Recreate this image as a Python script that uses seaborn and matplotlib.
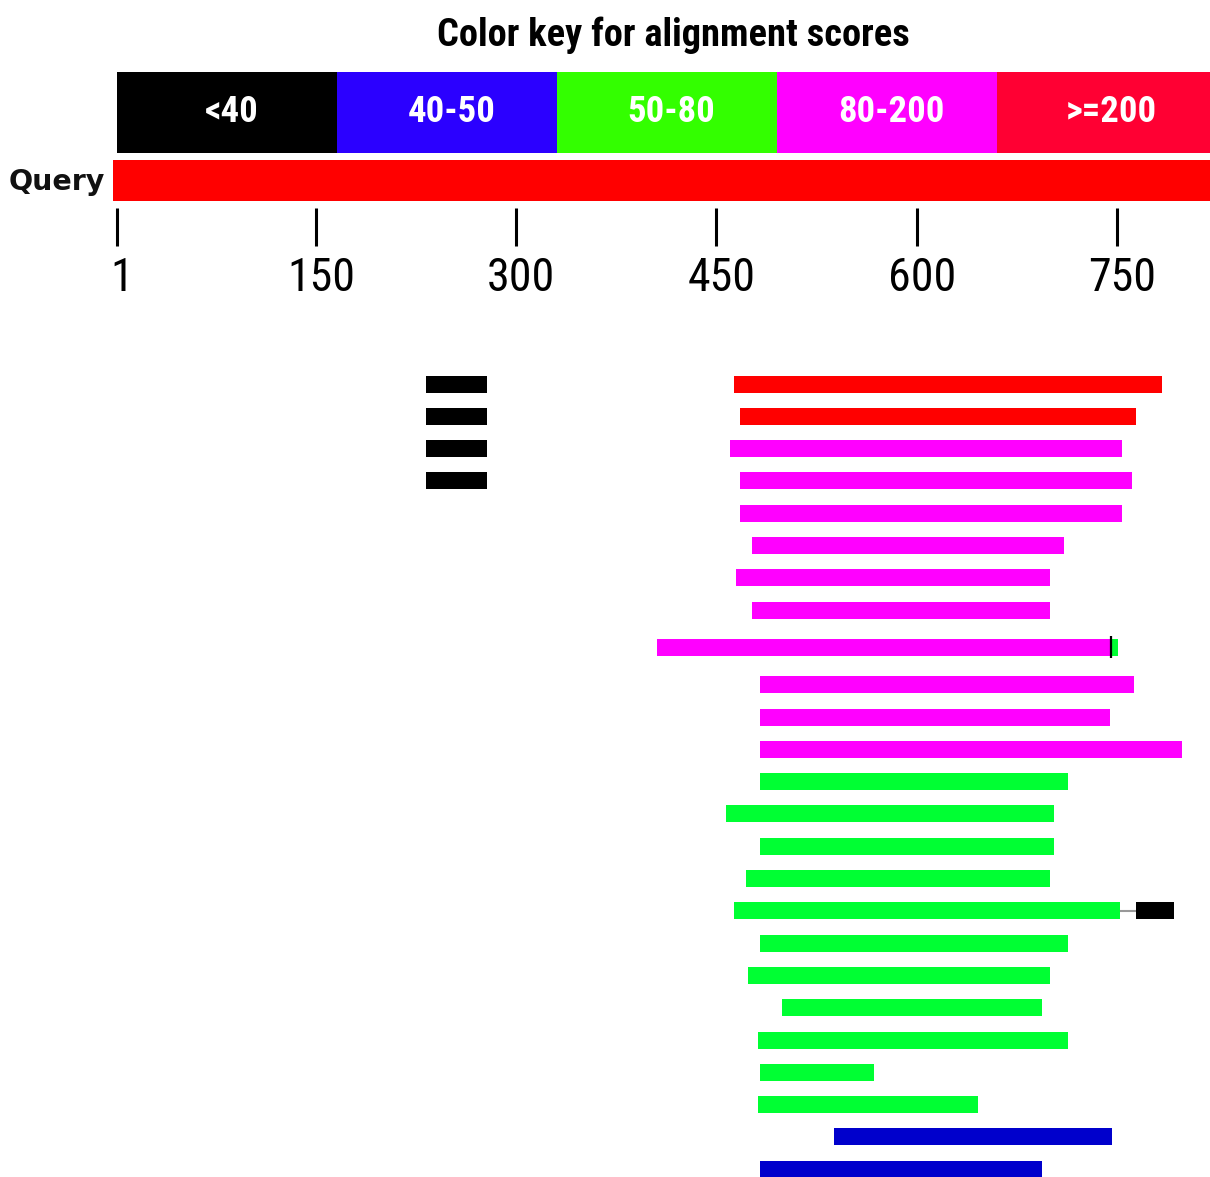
import matplotlib
matplotlib.use("Agg")
import matplotlib.pyplot as plt
from matplotlib import font_manager
import seaborn as sns

sns.set_theme(style="white")

# pick a narrow family if one is installed
_names = {f.name for f in font_manager.fontManager.ttflist}
_narrow = [n for n in ["Liberation Sans Narrow", "DejaVu Sans Condensed", "Roboto Condensed",
                       "Open Sans Condensed", "Noto Sans Condensed"] if n in _names]
_cond_stretch = any((f.name == "DejaVu Sans" and f.stretch == "condensed")
                    for f in font_manager.fontManager.ttflist)
plt.rcParams['font.family'] = _narrow + ['DejaVu Sans']
NARROW = bool(_narrow) or _cond_stretch

# ---- data ----
key_labels = ["<40", "40-50", "50-80", "80-200", ">=200"]
key_colors = ["#000000", "#2B00FF", "#33FF00", "#FF00FF", "#FF0033"]
hit_colors = {"<40": "#000000", "40-50": "#0000CC", "50-80": "#00FF33",
              "80-200": "#FF00FF", ">=200": "#FF0000"}

query_len = 820
tick_values = [1, 150, 300, 450, 600, 750]

seg_row   = [0, 0, 1, 1, 2, 2, 3, 3, 4, 5, 6, 7, 8, 8, 9, 10, 11, 12, 13, 14, 15,
             16, 16, 17, 18, 19, 20, 21, 22, 23, 24]
seg_start = [233, 463, 233, 468, 233, 460, 233, 468, 468, 477, 465, 477, 406, 746,
             483, 483, 483, 483, 457, 483, 472, 463, 764, 483, 474, 499, 481, 483,
             481, 538, 483]
seg_end   = [278, 784, 278, 764, 278, 754, 278, 761, 754, 710, 700, 700, 745, 751,
             763, 745, 799, 713, 703, 703, 700, 752, 793, 713, 700, 694, 713, 568,
             646, 746, 694]
seg_class = ["<40", ">=200", "<40", ">=200", "<40", "80-200", "<40", "80-200",
             "80-200", "80-200", "80-200", "80-200", "80-200", "50-80",
             "80-200", "80-200", "80-200", "50-80", "50-80", "50-80", "50-80",
             "50-80", "<40", "50-80", "50-80", "50-80", "50-80", "50-80",
             "50-80", "40-50", "40-50"]

connector_row = [16]
connector_start = [752]
connector_end = [764]
marker_row = [8]
marker_pos = [745.5]

# ---- layout ----
W, H = 1210, 1177
fig = plt.figure(figsize=(W / 100, H / 100), dpi=100)
fig.patch.set_facecolor("white")

px_per_unit = 1.3358
x0_px = 116.5
xmin = 1 - x0_px / px_per_unit
xmax = 1 + (W - x0_px) / px_per_unit

ax = fig.add_axes([0, 0, 1, 1])
ax.set_xlim(xmin, xmax)
ax.set_ylim(H, 0)
ax.axis("off")

stretch = "condensed"
sc = 1.0 if NARROW else 0.78

# color key
kax = fig.add_axes([117 / W, 1 - 153 / H, 1100 / W, 81 / H])
kax.barh([0] * 5, [1] * 5, left=list(range(5)), height=1.0, color=key_colors,
         edgecolor="none")
for i, lab in enumerate(key_labels):
    kax.text(i + 0.52, 0.0, lab, color="white", ha="center", va="center",
             fontsize=26.5 * sc, fontweight="bold", fontstretch=stretch)
kax.set_xlim(0, 5)
kax.set_ylim(-0.5, 0.5)
kax.axis("off")

fig.text(673 / W, 1 - 35 / H, "Color key for alignment scores", ha="center",
         va="center", fontsize=27.6 * sc, fontweight="bold", color="black",
         fontstretch=stretch)

# query bar
ax.barh([180.5], [query_len + 2], left=-1.6, height=41, color="#FF0000",
        edgecolor="none")
ax.text(9 / px_per_unit + xmin, 182, "Query", ha="left", va="center",
        fontsize=20.5, fontweight="bold", color="#111111",
        family=["DejaVu Sans"])

# axis ticks
ax.vlines(tick_values, 208, 246, color="black", linewidth=2.2)
for v in tick_values:
    ax.text(v + 4, 278, str(v), ha="center", va="center", fontsize=33 * sc,
            color="black", fontstretch=stretch)

# hits
row_y0, row_gap, bar_h = 384, 32.3, 17
def row_y(r):
    return row_y0 + r * row_gap + (5 if r == 8 else (10 if r > 8 else 0))

for r, s, e, c in zip(seg_row, seg_start, seg_end, seg_class):
    ax.barh(row_y(r), e - s, left=s, height=bar_h,
            color=hit_colors[c], edgecolor="none")
for r, s, e in zip(connector_row, connector_start, connector_end):
    ax.hlines(row_y(r), s, e, color="#999999", linewidth=1.5)
for r, p in zip(marker_row, marker_pos):
    y = row_y(r)
    ax.vlines(p, y - 11, y + 11, color="black", linewidth=1.6)

fig.savefig("out.png", dpi=100, facecolor="white")
